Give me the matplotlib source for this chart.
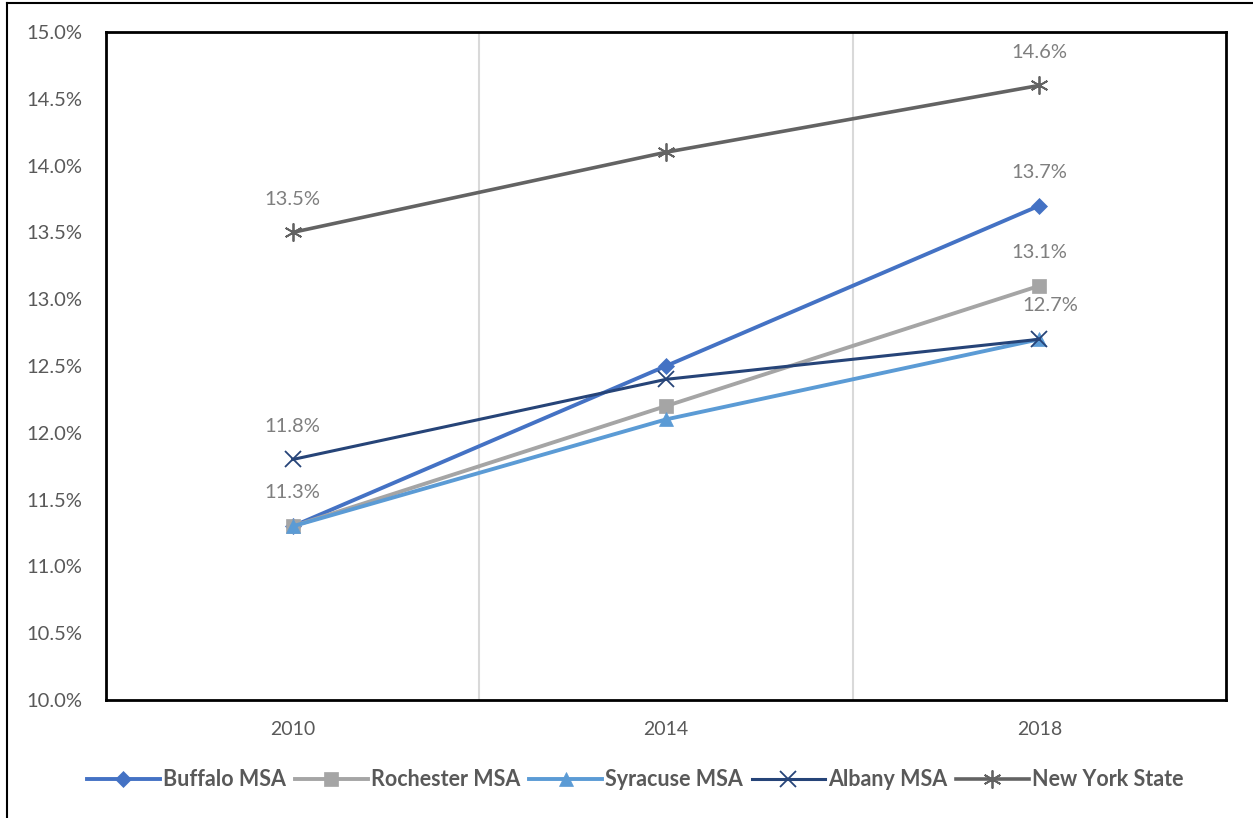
import matplotlib.pyplot as plt
from matplotlib.lines import Line2D
from matplotlib.ticker import FuncFormatter

plt.rcParams['font.family'] = ['Lato', 'DejaVu Sans']

years = ['2010', '2014', '2018']
buffalo = [11.3, 12.5, 13.7]
rochester = [11.3, 12.2, 13.1]
syracuse = [11.3, 12.1, 12.7]
albany = [11.8, 12.4, 12.7]
nys = [13.5, 14.1, 14.6]

names = ['Buffalo MSA', 'Rochester MSA', 'Syracuse MSA', 'Albany MSA', 'New York State']
colors = ['#4472C4', '#A5A5A5', '#5B9BD5', '#264478', '#636363']
markers = ['D', 's', '^', 'x', (6, 2, 0)]
msizes = [8, 10, 10, 11, 13]
lwidths = [2.8, 2.8, 2.8, 2.2, 2.6]

# (series index, point index, x offset pt) for the data labels shown
labels = [(4, 0, 0), (4, 2, 0), (0, 2, 0), (1, 2, 0), (3, 2, 8), (3, 0, 0), (0, 0, 0)]

fig = plt.figure(figsize=(12.53, 8.18), dpi=100)
ax = fig.add_axes([0.0846, 0.1443, 0.8939, 0.8166])

series = [buffalo, rochester, syracuse, albany, nys]
x = list(range(len(years)))
for s, name, c, m, ms, lw in zip(series, names, colors, markers, msizes, lwidths):
    ax.plot(x, s, color=c, marker=m, markersize=ms, linewidth=lw, label=name,
            markeredgewidth=1.3 if m in ('x', (6, 2, 0)) else 0.5, zorder=3)

for si, pi, dx in labels:
    ax.annotate(f'{series[si][pi]:.1f}%', (x[pi], series[si][pi]), xytext=(dx, 24),
                textcoords='offset points', ha='center', va='center',
                fontsize=14.5, color='#7F7F7F')

ax.set_xlim(-0.5, 2.5)
ax.set_ylim(10, 15)
ax.set_yticks([10 + 0.5 * i for i in range(11)])
ax.yaxis.set_major_formatter(FuncFormatter(lambda v, p: f'{v:.1f}%'))
ax.set_xticks(x)
ax.set_xticklabels(years)
ax.set_xticks([0.5, 1.5], minor=True)
ax.grid(which='minor', axis='x', color='#D9D9D9', linewidth=1.5)
ax.tick_params(axis='both', which='both', length=0)
ax.tick_params(axis='y', labelsize=14.5, labelcolor='#595959', pad=17)
ax.tick_params(axis='x', labelsize=14, labelcolor='#595959', pad=15)
for sp in ax.spines.values():
    sp.set_linewidth(2)
    sp.set_color('black')

leg = fig.legend(loc='center', bbox_to_anchor=(0.507, 0.0465), ncol=5, frameon=False,
                 handlelength=3.4, columnspacing=0.4, handletextpad=0.15,
                 prop={'size': 15.5, 'weight': 'bold'})
for t in leg.get_texts():
    t.set_color('#595959')

# outer chart border (left and top edges visible)
fig.add_artist(Line2D([0.0056, 0.0056], [0, 0.9963], transform=fig.transFigure, color='black', linewidth=1.5))
fig.add_artist(Line2D([0.0056, 1], [0.9963, 0.9963], transform=fig.transFigure, color='black', linewidth=1.5))

fig.savefig('out.png', dpi=100)
